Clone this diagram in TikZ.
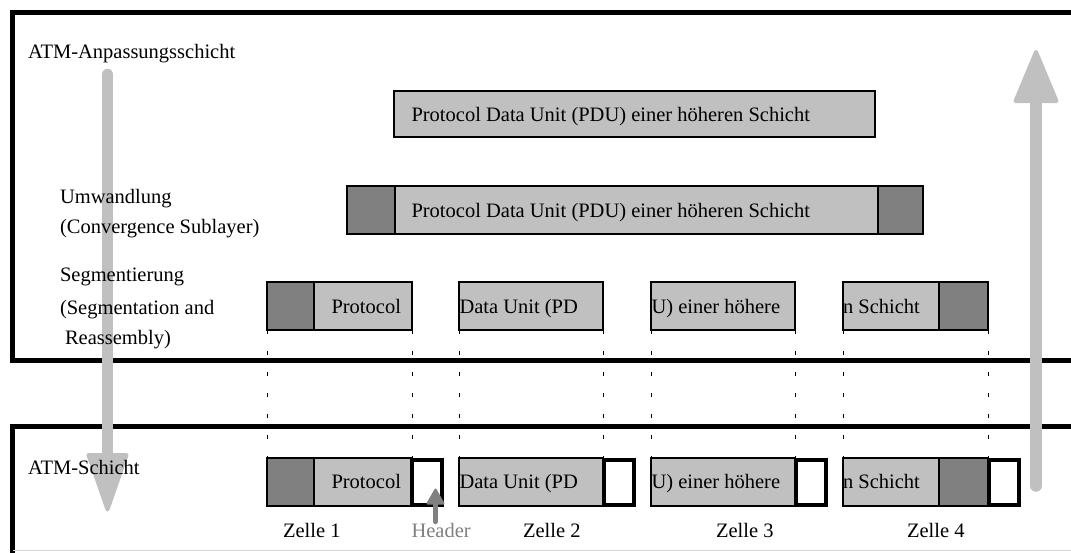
\documentclass[tikz,border=0pt]{standalone}
\usepackage{fontspec}
\setmainfont{Liberation Serif}
\definecolor{lightgr}{HTML}{C0C0C0}
\definecolor{darkgr}{HTML}{808080}
\definecolor{rulegr}{HTML}{D4D4D4}

\begin{document}
\begin{tikzpicture}[x=1pt,y=-1pt,
  txt/.style={anchor=base west, inner sep=0pt, outer sep=0pt, font=\fontsize{20.5}{24}\selectfont},
  frame/.style={line width=5pt, line join=miter},
  part/.style={draw=black, line width=2pt, inner sep=0pt, outer sep=0pt},
  lightpart/.style={part, fill=lightgr},
  darkpart/.style={part, fill=darkgr},
  hdrbox/.style={draw=black, fill=white, line width=4pt, inner sep=0pt, outer sep=0pt,
                 minimum width=30pt, minimum height=45pt},
  cut/.style={line width=1pt, dash pattern=on 3.5pt off 17.5pt},
  flowshaft/.style={draw=lightgr, line width=11.5pt, line cap=round},
  flowhead/.style={draw=lightgr, fill=lightgr, line width=4pt, line join=round},
]
\useasboundingbox (0,0) rectangle (1071,552);
\clip (0,0) rectangle (1071,552);

% layer frames (open to the right)
\draw[frame] (1075,12.5) -- (12.5,12.5) -- (12.5,360.5) -- (1075,360.5);
\draw[frame] (1075,426.5) -- (12.5,426.5) -- (12.5,560);
\draw[rulegr, line width=1.5pt] (12.5,550.5) -- (1075,550.5);

% PDU of the higher layer
\node[lightpart, minimum width=481pt, minimum height=46pt] (pdu) at (634.5,114) {};

% convergence sublayer: PDU with header and trailer
\node[darkpart,  minimum width=48pt,  minimum height=48pt] (csh) at (371,210) {};
\node[lightpart, minimum width=483pt, minimum height=48pt] (csp) at (636.5,210) {};
\node[darkpart,  minimum width=45pt,  minimum height=48pt] (cst) at (900.5,210) {};

% segmentation and reassembly: four segments
\node[darkpart,  minimum width=47pt,  minimum height=48pt] (s1d) at (290.5,306) {};
\node[lightpart, minimum width=98pt,  minimum height=48pt] (s1l) at (363,306) {};
\node[lightpart, minimum width=144pt, minimum height=48pt] (s2l) at (531,306) {};
\node[lightpart, minimum width=144pt, minimum height=48pt] (s3l) at (723,306) {};
\node[lightpart, minimum width=96pt,  minimum height=48pt] (s4l) at (891,306) {};
\node[darkpart,  minimum width=49pt,  minimum height=48pt] (s4d) at (963.5,306) {};

% ATM cells: segment plus cell header
\node[darkpart,  minimum width=47pt,  minimum height=47.4pt] (c1d) at (290.5,482) {};
\node[lightpart, minimum width=98pt,  minimum height=47.4pt] (c1l) at (363,482) {};
\node[hdrbox] (h1) at (427,482) {};
\node[lightpart, minimum width=144pt, minimum height=47.4pt] (c2l) at (531,482) {};
\node[hdrbox] (h2) at (618.5,482) {};
\node[lightpart, minimum width=144pt, minimum height=47.4pt] (c3l) at (723,482) {};
\node[hdrbox] (h3) at (811,482) {};
\node[lightpart, minimum width=96pt,  minimum height=47.4pt] (c4l) at (891,482) {};
\node[darkpart,  minimum width=49pt,  minimum height=47.4pt] (c4d) at (963.5,482) {};
\node[hdrbox] (h4) at (1003.5,482) {};

% segment boundaries carried down to the cells
\draw[cut] (s1d.south west) -- (c1d.north west);
\draw[cut] (s1l.south east) -- (c1l.north east);
\draw[cut] (s2l.south west) -- (c2l.north west);
\draw[cut] (s2l.south east) -- (c2l.north east);
\draw[cut] (s3l.south west) -- (c3l.north west);
\draw[cut] (s3l.south east) -- (c3l.north east);
\draw[cut] (s4l.south west) -- (c4l.north west);
\draw[cut] (s4d.south east) -- (c4d.north east);

% processing direction: down on the sending side, up on the receiving side
\coordinate (downTop) at (107.5,74.5);
\coordinate (downBase) at (107.5,456);
\draw[flowshaft] (downTop) -- (downBase);
\draw[flowhead] (88.5,455) -- (126.5,455) -- (107.5,509.5) -- cycle;

\coordinate (upBottom) at (1036,486);
\coordinate (upBase) at (1036,100);
\draw[flowshaft] (upBottom) -- (upBase);
\draw[flowhead] (1015.5,101) -- (1056.5,101) -- (1036,52) -- cycle;

% pointer to the cell header
\coordinate (hdrFoot) at (435.5,521.5);
\coordinate (hdrNeck) at (435.5,502);
\draw[darkgr, line width=5.5pt, line cap=round] (hdrFoot) -- (hdrNeck);
\draw[darkgr, fill=darkgr, line width=2pt, line join=round]
  (427.5,503.5) -- (443.5,503.5) -- (435.5,489.5) -- cycle;

% layer labels
\node[txt] (lblAal)  at (28,58)    {ATM-Anpassungsschicht};
\node[txt] (lblCs1)  at (60,203)   {Umwandlung};
\node[txt] (lblCs2)  at (60,233)   {(Convergence Sublayer)};
\node[txt] (lblSar1) at (60,281)   {Segmentierung};
\node[txt] (lblSar2) at (60,314)   {(Segmentation and};
\node[txt] (lblSar3) at (65,344.5) {Reassembly)};
\node[txt] (lblAtm)  at (28,474)   {ATM-Schicht};

% contents
\node[txt] (tPdu) at (411.5,121) {Protocol Data Unit (PDU) einer höheren Schicht};
\node[txt] (tCs)  at (411.5,217) {Protocol Data Unit (PDU) einer höheren Schicht};
\node[txt] (tS1) at (331.5,313) {Protocol};
\node[txt] (tS2) at (459.5,313) {Data Unit (PD};
\node[txt] (tS3) at (651.5,313) {U) einer höhere};
\node[txt] (tS4) at (843,313)   {n Schicht};
\node[txt] (tC1) at (331.5,488.5) {Protocol};
\node[txt] (tC2) at (459.5,488.5) {Data Unit (PD};
\node[txt] (tC3) at (651.5,488.5) {U) einer höhere};
\node[txt] (tC4) at (843,488.5)   {n Schicht};

% cell labels
\node[txt] (z1) at (283,537.5) {Zelle 1};
\node[txt, text=darkgr] (hdrLbl) at (411.5,537.5) {Header};
\node[txt] (z2) at (523,537.5) {Zelle 2};
\node[txt] (z3) at (716,537.5) {Zelle 3};
\node[txt] (z4) at (907,537.5) {Zelle 4};
\end{tikzpicture}
\end{document}
